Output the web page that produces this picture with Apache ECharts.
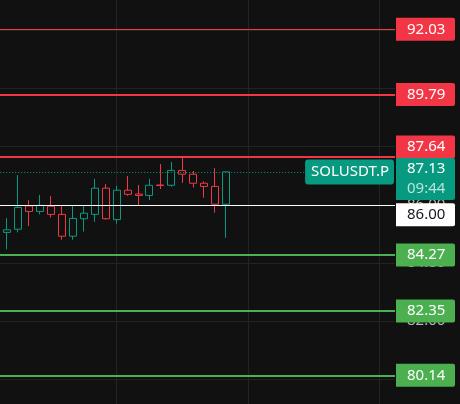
<!DOCTYPE html>
<html><head><meta charset="utf-8">
<script src="https://cdn.jsdelivr.net/npm/echarts@6/dist/echarts.min.js"></script>
<style>html,body{margin:0;padding:0;background:#111111;}#c{width:460px;height:404px;}</style>
</head><body><div id="c"></div>
<script>
// ---- data ----
const symbolName = 'SOLUSDT.P';
const countdown = '09:44';
const firstSlot = 1;
const opens  = [85.09, 85.05, 85.16, 85.96, 85.77, 85.95, 85.67, 84.92, 85.52, 85.67, 86.57, 85.49, 86.50, 86.37, 86.32, 86.68, 86.67, 87.18, 87.05, 86.74, 86.63, 86.02];
const closes = [85.04, 85.14, 85.91, 85.77, 85.98, 85.67, 84.92, 85.53, 85.71, 86.57, 85.52, 86.50, 86.36, 86.32, 86.67, 86.66, 87.18, 87.05, 86.74, 86.63, 86.02, 87.13];
const lows   = [84.95, 84.47, 85.05, 85.27, 85.67, 85.56, 84.80, 84.80, 85.08, 85.42, 85.49, 85.35, 86.31, 85.97, 86.16, 86.54, 86.62, 86.75, 86.59, 86.24, 85.73, 84.87];
const highs  = [85.20, 85.54, 87.02, 86.16, 86.34, 86.30, 85.96, 85.96, 85.96, 86.89, 86.71, 86.65, 86.99, 86.68, 86.89, 87.40, 87.47, 87.63, 87.16, 86.81, 87.26, 87.13];
const levels = [92.03, 89.79, 87.64, 86.00, 84.27, 82.35, 80.14];
const yTicks = { min: 78, max: 94, step: 2 };

// ---- styles ----
const RED = '#F23645', GREEN = '#4CAF50', TEAL = '#089981', BG = '#111111';
const levelLineColors = [RED, RED, RED, '#FFFFFF', GREEN, GREEN, GREEN];
const levelLineWidths = [1, 2, 2, 1, 2, 2, 2];
const levelBoxColors  = [RED, RED, RED, '#FFFFFF', GREEN, GREEN, GREEN];
const levelTextColors = ['#FFFFFF', '#FFFFFF', '#FFFFFF', '#131722', '#FFFFFF', '#FFFFFF', '#FFFFFF'];
const levelLabelShift = [0, 0, -10, 10, 0, 0, 0];
const FONT = 'Noto Sans';

const candleData = opens.map((o, i) => [i + firstSlot, o, closes[i], lows[i], highs[i]]);
const lastPrice = closes[closes.length - 1];

const levelLines = levels.map((v, i) => ({
  yAxis: v,
  lineStyle: { color: levelLineColors[i], width: levelLineWidths[i], type: 'solid' },
  label: {
    show: true, position: 'end', distance: 1, offset: [0, levelLabelShift[i]],
    formatter: v.toFixed(2),
    color: levelTextColors[i], backgroundColor: levelBoxColors[i],
    fontFamily: FONT, fontSize: 15,
    width: 48, height: 23, lineHeight: 23, padding: [0, 0, 0, 11],
    borderRadius: [0, 2, 2, 0]
  }
}));

const priceLine = {
  yAxis: lastPrice,
  lineStyle: { color: TEAL, width: 1, type: [1, 2] },
  label: {
    show: true, position: 'end', distance: 1, offset: [0, 7],
    formatter: '{p|' + lastPrice.toFixed(2) + '}\n{t|' + countdown + '}',
    backgroundColor: TEAL, width: 48, padding: [1, 0, 1, 11],
    borderRadius: [0, 2, 2, 0],
    rich: {
      p: { color: '#FFFFFF', fontFamily: FONT, fontSize: 15, lineHeight: 20 },
      t: { color: 'rgba(255,255,255,0.72)', fontFamily: FONT, fontSize: 15, lineHeight: 20 }
    }
  }
};
const nameLine = {
  yAxis: lastPrice,
  lineStyle: { color: 'rgba(0,0,0,0)', width: 1, opacity: 1 },
  label: {
    show: true, position: 'insideEnd', distance: 1,
    formatter: symbolName,
    color: '#FFFFFF', backgroundColor: TEAL, fontFamily: FONT, fontSize: 15,
    height: 25, lineHeight: 25, padding: [0, 5, 0, 6], borderRadius: 3
  }
};

const chart = echarts.init(document.getElementById('c'), null, { renderer: 'canvas' });
chart.setOption({
  backgroundColor: BG,
  animation: false,
  grid: { left: -14.8, right: 65, top: -28.03, bottom: -33.57, containLabel: false, outerBoundsMode: 'none' },
  xAxis: {
    type: 'value', min: 0, max: 37.42, interval: 12,
    axisLine: { show: false }, axisTick: { show: false }, axisLabel: { show: false },
    splitLine: { show: true, showMaxLine: false, showMinLine: false, lineStyle: { color: '#232323', width: 1 } }
  },
  yAxis: {
    type: 'value', position: 'right', min: yTicks.min, max: yTicks.max, interval: yTicks.step,
    axisLine: { show: false }, axisTick: { show: false },
    axisLabel: { color: '#B2B5BE', fontFamily: FONT, fontSize: 15, margin: 12, formatter: v => v.toFixed(2) },
    splitLine: { show: true, lineStyle: { color: '#232323', width: 1 } }
  },
  series: [{
    type: 'candlestick',
    data: candleData,
    encode: { x: 0, y: [1, 2, 3, 4] },
    barWidth: 7.5,
    itemStyle: {
      color: BG, color0: BG,
      borderColor: TEAL, borderColor0: RED, borderColorDoji: RED, borderWidth: 1
    },
    markLine: {
      silent: true, symbol: 'none', animation: false,
      data: [...levelLines, priceLine, nameLine]
    }
  }]
});
</script></body></html>
